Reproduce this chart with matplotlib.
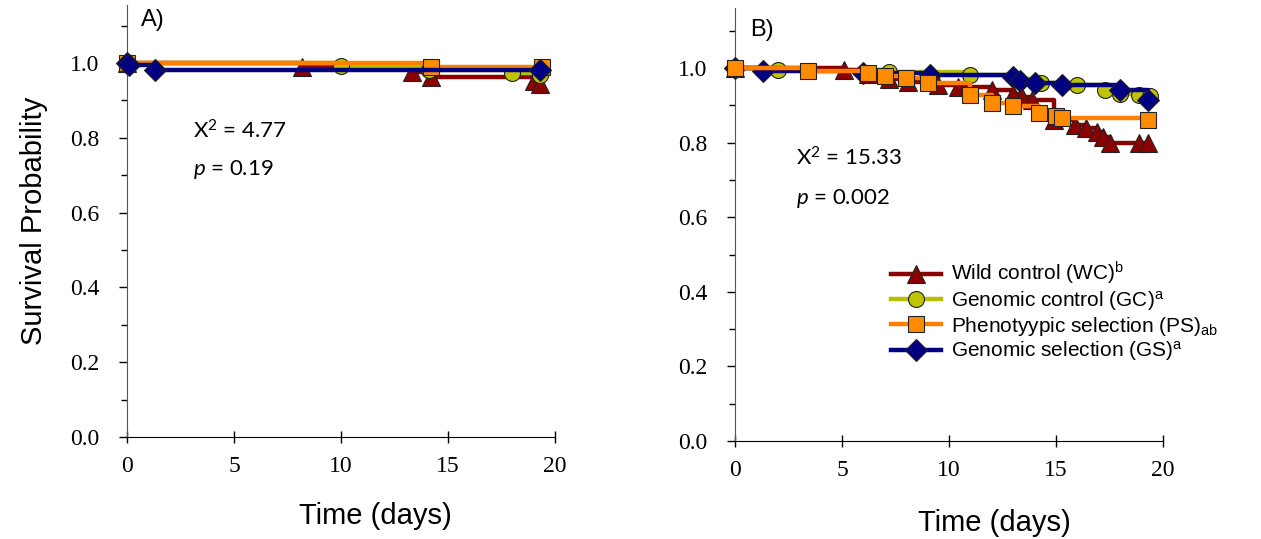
import matplotlib
matplotlib.use("Agg")
import matplotlib.pyplot as plt
from matplotlib.ticker import MultipleLocator

plt.rcParams['mathtext.fontset'] = 'custom'
plt.rcParams['mathtext.rm'] = 'Liberation Sans'
plt.rcParams['mathtext.sf'] = 'Lato'
plt.rcParams['mathtext.it'] = 'Lato:italic'

# ---------------- data ----------------
# Panel A
a_wc_t = [0, 8.2, 13.3, 14.2, 19.0, 19.3]
a_wc_s = [1.0, 0.99, 0.975, 0.963, 0.952, 0.945]
a_gc_t = [0, 10.0, 14.1, 18.0, 19.3]
a_gc_s = [1.0, 0.992, 0.982, 0.972, 0.968]
a_ps_t = [0, 14.2, 19.4]
a_ps_s = [1.0, 0.99, 0.99]
a_gs_t = [0, 0.1, 1.3, 19.3]
a_gs_s = [1.0, 0.995, 0.982, 0.982]

# Panel B
b_wc_t = [0, 5.1, 6.2, 7.2, 8.1, 9.5, 10.4, 12.0, 13.0, 13.4, 13.9, 14.9, 15.9, 16.4, 16.9, 17.2, 17.5, 18.9, 19.3]
b_wc_s = [1.0, 0.995, 0.985, 0.970, 0.962, 0.955, 0.949, 0.942, 0.930, 0.922, 0.914, 0.862, 0.848, 0.840, 0.828, 0.815, 0.80, 0.80, 0.80]
b_gc_t = [0, 2.0, 7.2, 11.0, 13.2, 14.3, 16.0, 17.3, 18.0, 18.9, 19.4]
b_gc_s = [1.0, 0.995, 0.99, 0.982, 0.97, 0.96, 0.954, 0.942, 0.93, 0.928, 0.925]
b_ps_t = [0, 3.4, 6.2, 7.0, 8.0, 9.0, 11.0, 12.0, 13.0, 14.2, 15.0, 15.3, 19.3]
b_ps_s = [1.0, 0.992, 0.987, 0.979, 0.973, 0.96, 0.928, 0.906, 0.898, 0.879, 0.871, 0.866, 0.861]
b_gs_t = [0, 1.3, 6.0, 9.1, 13.0, 13.3, 14.0, 15.3, 18.0, 19.3]
b_gs_s = [1.0, 0.992, 0.987, 0.982, 0.976, 0.965, 0.960, 0.954, 0.942, 0.915]

labels = [r"Wild control (WC)$^{\mathrm{b}}$",
          r"Genomic control (GC)$^{\mathrm{a}}$",
          r"Phenotyypic selection (PS)$_{\mathrm{ab}}$",
          r"Genomic selection (GS)$^{\mathrm{a}}$"]

stats_a = ["4.77", "0.19"]
stats_b = ["15.33", "0.002"]
x_ticks = [0, 5, 10, 15, 20]
y_ticks = [0.0, 0.2, 0.4, 0.6, 0.8, 1.0]

# ---------------- styles ----------------
styles = {
    'wc': dict(color='#8B0000', marker='^', ms=12.5, mfc='#8B0000'),
    'gc': dict(color='#B4C000', marker='o', ms=11.5, mfc='#BFC400'),
    'ps': dict(color='#FF8000', marker='s', ms=11.5, mfc='#FF8C00'),
    'gs': dict(color='#000080', marker='D', ms=11.5, mfc='#000080'),
}

fig = plt.figure(figsize=(12.61, 5.39), dpi=100)
axA = fig.add_axes([127/1261, 102/539, 428/1261, 432/539])
axB = fig.add_axes([735/1261, 98/539, 428/1261, 433/539])


def draw(ax, key, t, s, z):
    st = styles[key]
    ax.step(t, s, where='post', color=st['color'], lw=3.2, zorder=z, clip_on=False)
    ax.plot(t, s, ls='none', marker=st['marker'], ms=st['ms'], mfc=st['mfc'],
            mec='#222222', mew=0.8, zorder=z + 0.5, clip_on=False)


draw(axA, 'wc', a_wc_t, a_wc_s, 3)
draw(axA, 'gc', a_gc_t, a_gc_s, 4)
draw(axA, 'ps', a_ps_t, a_ps_s, 5)
draw(axA, 'gs', a_gs_t, a_gs_s, 6)

draw(axB, 'gc', b_gc_t, b_gc_s, 3)
draw(axB, 'gs', b_gs_t, b_gs_s, 4)
draw(axB, 'wc', b_wc_t, b_wc_s, 5)
draw(axB, 'ps', b_ps_t, b_ps_s, 6)
for key, lab in zip(['wc', 'gc', 'ps', 'gs'], labels):
    st = styles[key]
    axB.plot([], [], color=st['color'], lw=3.2, marker=st['marker'], ms=st['ms'],
             mfc=st['mfc'], mec='#222222', mew=0.8, label=lab)

for ax, ytop in [(axA, 1.155), (axB, 1.161)]:
    ax.set_xlim(0, 20)
    ax.set_ylim(0, ytop)
    ax.spines['top'].set_visible(False)
    ax.spines['right'].set_visible(False)
    ax.spines['left'].set_color('#555555')
    ax.set_xticks(x_ticks)
    ax.set_xticklabels([str(v) for v in x_ticks])
    ax.set_yticks(y_ticks)
    ax.set_yticklabels([f"{v:.1f}" for v in y_ticks])
    ax.yaxis.set_minor_locator(MultipleLocator(0.1))
    ax.tick_params(axis='x', direction='inout', length=8, width=1, labelsize=17, pad=10)
    ax.tick_params(axis='y', direction='out', length=6, width=1, labelsize=17, pad=14)
    ax.tick_params(axis='y', which='minor', direction='out', length=4, width=1)
    for lbl in ax.get_xticklabels() + ax.get_yticklabels():
        lbl.set_fontfamily('Liberation Serif')
    ax.set_xlabel("Time (days)", fontsize=21, family='Liberation Sans')

axA.xaxis.set_label_coords(0.58, -0.15)
axB.xaxis.set_label_coords(0.607, -0.158)
axA.set_ylabel("Survival Probability", fontsize=21, family='Liberation Sans', labelpad=16)

fig.text(141/1261, 1 - 20/539, "A)", fontsize=17, family='Liberation Sans', va='center')
fig.text(750/1261, 1 - 30/539, "B)", fontsize=17, family='Liberation Sans', va='center')

axA.text(3.08, 0.818, r"X$^{\mathsf{2}}$ = " + stats_a[0], fontsize=16, family='Lato', va='center')
axA.text(3.08, 0.714, r"$p$ = " + stats_a[1], fontsize=16, family='Lato', va='center')
axB.text(2.85, 0.758, r"X$^{\mathsf{2}}$ = " + stats_b[0], fontsize=16, family='Lato', va='center')
axB.text(2.85, 0.651, r"$p$ = " + stats_b[1], fontsize=16, family='Lato', va='center')

leg = axB.legend(loc='upper left', bbox_to_anchor=(0.345, 0.437), frameon=False,
                 prop={'family': 'Liberation Sans', 'size': 15}, handlelength=2.4,
                 labelspacing=0.08, handletextpad=0.5, borderaxespad=0)

fig.savefig("out.png", dpi=100)
